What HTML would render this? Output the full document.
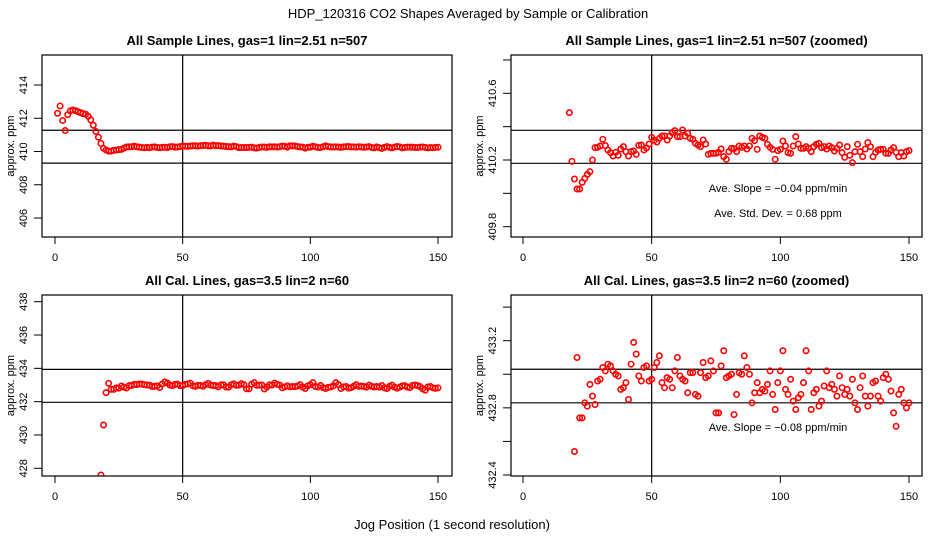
<!DOCTYPE html>
<html><head><meta charset="utf-8">
<style>
html,body{margin:0;padding:0;background:#fff;width:936px;height:540px;overflow:hidden;}
svg{display:block;font-family:"Liberation Sans",sans-serif;overflow:hidden;}
</style></head>
<body>
<svg id="fig" width="936" height="540" viewBox="0 0 936 540">
  <text x="468" y="18" text-anchor="middle" font-size="13">HDP_120316  CO2 Shapes Averaged by Sample or Calibration</text>
  <text x="452" y="529" text-anchor="middle" font-size="13">Jog Position (1 second resolution)</text>
</svg>
<script>
// Sample lines, jog positions 1..150
const sampleX = Array.from({length:150},(_,i)=>i+1);
const sampleVals = [412.3,412.74,411.86,411.26,412.22,412.44,412.5,412.46,412.4,412.34,412.28,412.24,412.12,411.9,411.58,411.2,410.86,
410.484,410.192,410.086,410.026,410.026,410.066,410.09,410.114,410.13,410.2,410.274,410.276,410.284,410.324,410.286,410.26,410.244,410.224,410.246,410.228,410.266,410.28,410.25,410.224,410.25,410.254,410.234,410.288,410.29,410.26,410.272,410.296,410.336,410.318,410.308,410.33,410.344,410.344,410.32,410.344,410.364,410.376,410.34,410.34,410.38,410.344,410.36,410.33,410.324,410.3,410.29,410.28,410.32,410.296,410.234,410.24,410.24,410.24,410.246,410.266,410.22,410.204,410.25,410.27,410.268,410.25,410.284,410.276,410.284,410.266,410.284,410.33,410.316,410.264,410.344,410.336,410.33,410.294,410.276,410.264,410.204,410.256,410.264,410.314,410.284,410.244,410.24,410.284,410.34,410.296,410.27,410.27,410.28,410.27,410.25,410.28,410.294,410.3,410.274,410.28,410.266,410.284,410.274,410.254,410.27,410.29,410.244,410.216,410.28,410.228,410.184,410.25,410.294,410.25,410.22,410.266,410.304,410.28,410.22,410.246,410.26,410.264,410.264,410.24,410.24,410.26,410.274,410.246,410.22,410.244,410.224,410.25,410.256];
// Calibration lines, jog positions 18..150
const calX = Array.from({length:133},(_,i)=>i+18);
const calVals = [427.6,430.6,432.54,433.10,432.74,432.74,432.83,432.81,432.94,432.87,432.82,432.96,432.97,433.04,433.02,433.06,433.05,433.02,433.00,432.99,432.91,432.92,432.95,432.85,433.06,433.19,433.12,432.99,432.96,433.04,433.05,432.96,432.97,433.04,433.07,433.11,432.95,432.92,432.98,432.97,432.92,433.02,433.10,432.99,432.97,432.96,432.89,433.01,433.01,432.88,432.87,433.01,433.07,432.98,432.99,433.08,433.02,432.77,432.77,433.05,433.14,432.98,432.99,433.00,432.76,432.88,433.01,433.00,433.11,433.04,433.00,432.83,432.89,432.95,432.89,432.91,432.90,432.94,433.02,432.88,432.79,432.95,433.02,433.14,432.91,432.88,432.97,432.84,432.79,432.86,432.88,432.95,433.14,433.02,432.79,432.89,432.91,432.81,432.84,432.93,433.02,432.92,432.94,432.91,432.87,432.99,432.92,432.88,432.91,432.87,432.97,432.83,432.79,432.92,432.99,432.87,432.81,432.87,432.95,432.96,432.87,432.84,432.98,433.00,432.97,432.90,432.77,432.69,432.88,432.91,432.83,432.80,432.83];
const xTicks = [0,50,100,150];
const p1Ticks = [406,408,410,412,414];
const p1Labels = ["406","408","410","412","414"];
const p2Ticks = [409.8,410.0,410.2,410.4,410.6,410.8];
const p2Labels = ["409.8","","410.2","","410.6",""];
const p3Ticks = [428,430,432,434,436,438];
const p3Labels = ["428","430","432","434","436","438"];
const p4Ticks = [432.4,432.6,432.8,433.0,433.2,433.4];
const p4Labels = ["432.4","","432.8","","433.2",""];
const p1HLines = [411.28,409.3];
const p2HLines = [410.378,410.18];
const p3HLines = [433.94,431.96];
const p4HLines = [433.03,432.83];
const vLineX = 50;

const svg = document.getElementById('fig');
const NS = 'http://www.w3.org/2000/svg';
function mk(tag, attrs, parent){
  const e = document.createElementNS(NS, tag);
  for (const k in attrs) e.setAttribute(k, attrs[k]);
  (parent||svg).appendChild(e);
  return e;
}
const defs = mk('defs',{});

const panels = [
 {id:'p1', title:'All Sample Lines, gas=1 lin=2.51 n=507', box:[42,55,452,237], x0:55,x1:438, yA:414,pA:85, yB:406,pB:218,
  ticks:p1Ticks, labels:p1Labels, hl:p1HLines, xs:sampleX, ys:sampleVals, notes:[]},
 {id:'p2', title:'All Sample Lines, gas=1 lin=2.51 n=507 (zoomed)', box:[511,55,922,237], x0:523,x1:909, yA:410.6,pA:93.3, yB:409.8,pB:226.7,
  ticks:p2Ticks, labels:p2Labels, hl:p2HLines, xs:sampleX, ys:sampleVals,
  notes:[['Ave. Slope =  \u22120.04  ppm/min',192,'slope-annotation'],['Ave. Std. Dev. =  0.68  ppm',217,'std-dev-annotation']]},
 {id:'p3', title:'All Cal. Lines, gas=3.5 lin=2 n=60', box:[42,295,452,476], x0:55,x1:438, yA:438,pA:301.7, yB:428,pB:468.3,
  ticks:p3Ticks, labels:p3Labels, hl:p3HLines, xs:calX, ys:calVals, notes:[]},
 {id:'p4', title:'All Cal. Lines, gas=3.5 lin=2 n=60 (zoomed)', box:[511,295,922,476], x0:523,x1:909, yA:433.2,pA:340.7, yB:432.4,pB:475,
  ticks:p4Ticks, labels:p4Labels, hl:p4HLines, xs:calX, ys:calVals,
  notes:[['Ave. Slope =  \u22120.08  ppm/min',431,'slope-annotation']]}
];

panels.forEach(p=>{
  const [L,T,R,B] = p.box;
  const sx = v => p.x0 + v*(p.x1-p.x0)/150;
  const sy = v => p.pA + (v-p.yA)*(p.pB-p.pA)/(p.yB-p.yA);
  const g = mk('g',{});
  
  
  const cp = mk('clipPath',{id:'clip-'+p.id}, defs);
  mk('rect',{x:L,y:T,width:R-L,height:B-T}, cp);
  const cx = (L+R)/2;
  const t = mk('text',{x:cx,y:T-10,'text-anchor':'middle','font-size':13,'font-weight':'bold'}, g);
  t.textContent = p.title;
  
  
  p.hl.forEach(v=>{
    const l = mk('line',{x1:L,x2:R,y1:sy(v),y2:sy(v),stroke:'#000','stroke-width':1.2}, g);
    
    
  });
  const vl = mk('line',{x1:sx(vLineX),x2:sx(vLineX),y1:T,y2:B,stroke:'#000','stroke-width':1.2}, g);
  
  
  const pg = mk('g',{'clip-path':'url(#clip-'+p.id+')'}, g);
  
  
  p.ys.forEach((v,i)=>{
    const c = mk('circle',{cx:sx(p.xs[i]),cy:sy(v),r:2.7,fill:'none',stroke:'#f00','stroke-width':1.6}, pg);
    
    
  });
  const bx = mk('rect',{x:L,y:T,width:R-L,height:B-T,fill:'none',stroke:'#000','stroke-width':1.2}, g);
  
  
  xTicks.forEach(v=>{
    const x = sx(v);
    mk('line',{x1:x,x2:x,y1:B,y2:B+7,stroke:'#000','stroke-width':1}, g);
    const tl = mk('text',{x:x,y:B+24,'text-anchor':'middle','font-size':11}, g);
    tl.textContent = v;
    
    
  });
  p.ticks.forEach((v,i)=>{
    const y = sy(v);
    mk('line',{x1:L-8,x2:L,y1:y,y2:y,stroke:'#000','stroke-width':1}, g);
    if (p.labels[i]) {
      const tl = mk('text',{x:L-15,y:y,'text-anchor':'middle','font-size':11,transform:'rotate(-90 '+(L-15)+' '+y+')'}, g);
      tl.textContent = p.labels[i];
      
      
    }
  });
  const yl = mk('text',{x:L-28,y:(T+B)/2,'text-anchor':'middle','font-size':11,transform:'rotate(-90 '+(L-28)+' '+((T+B)/2)+')'}, g);
  yl.textContent = 'approx. ppm';
  
  
  p.notes.forEach(n=>{
    const a = mk('text',{x:778,y:n[1],'text-anchor':'middle','font-size':11}, g);
    a.textContent = n[0];
    
    
  });
});
</script>
</body></html>
